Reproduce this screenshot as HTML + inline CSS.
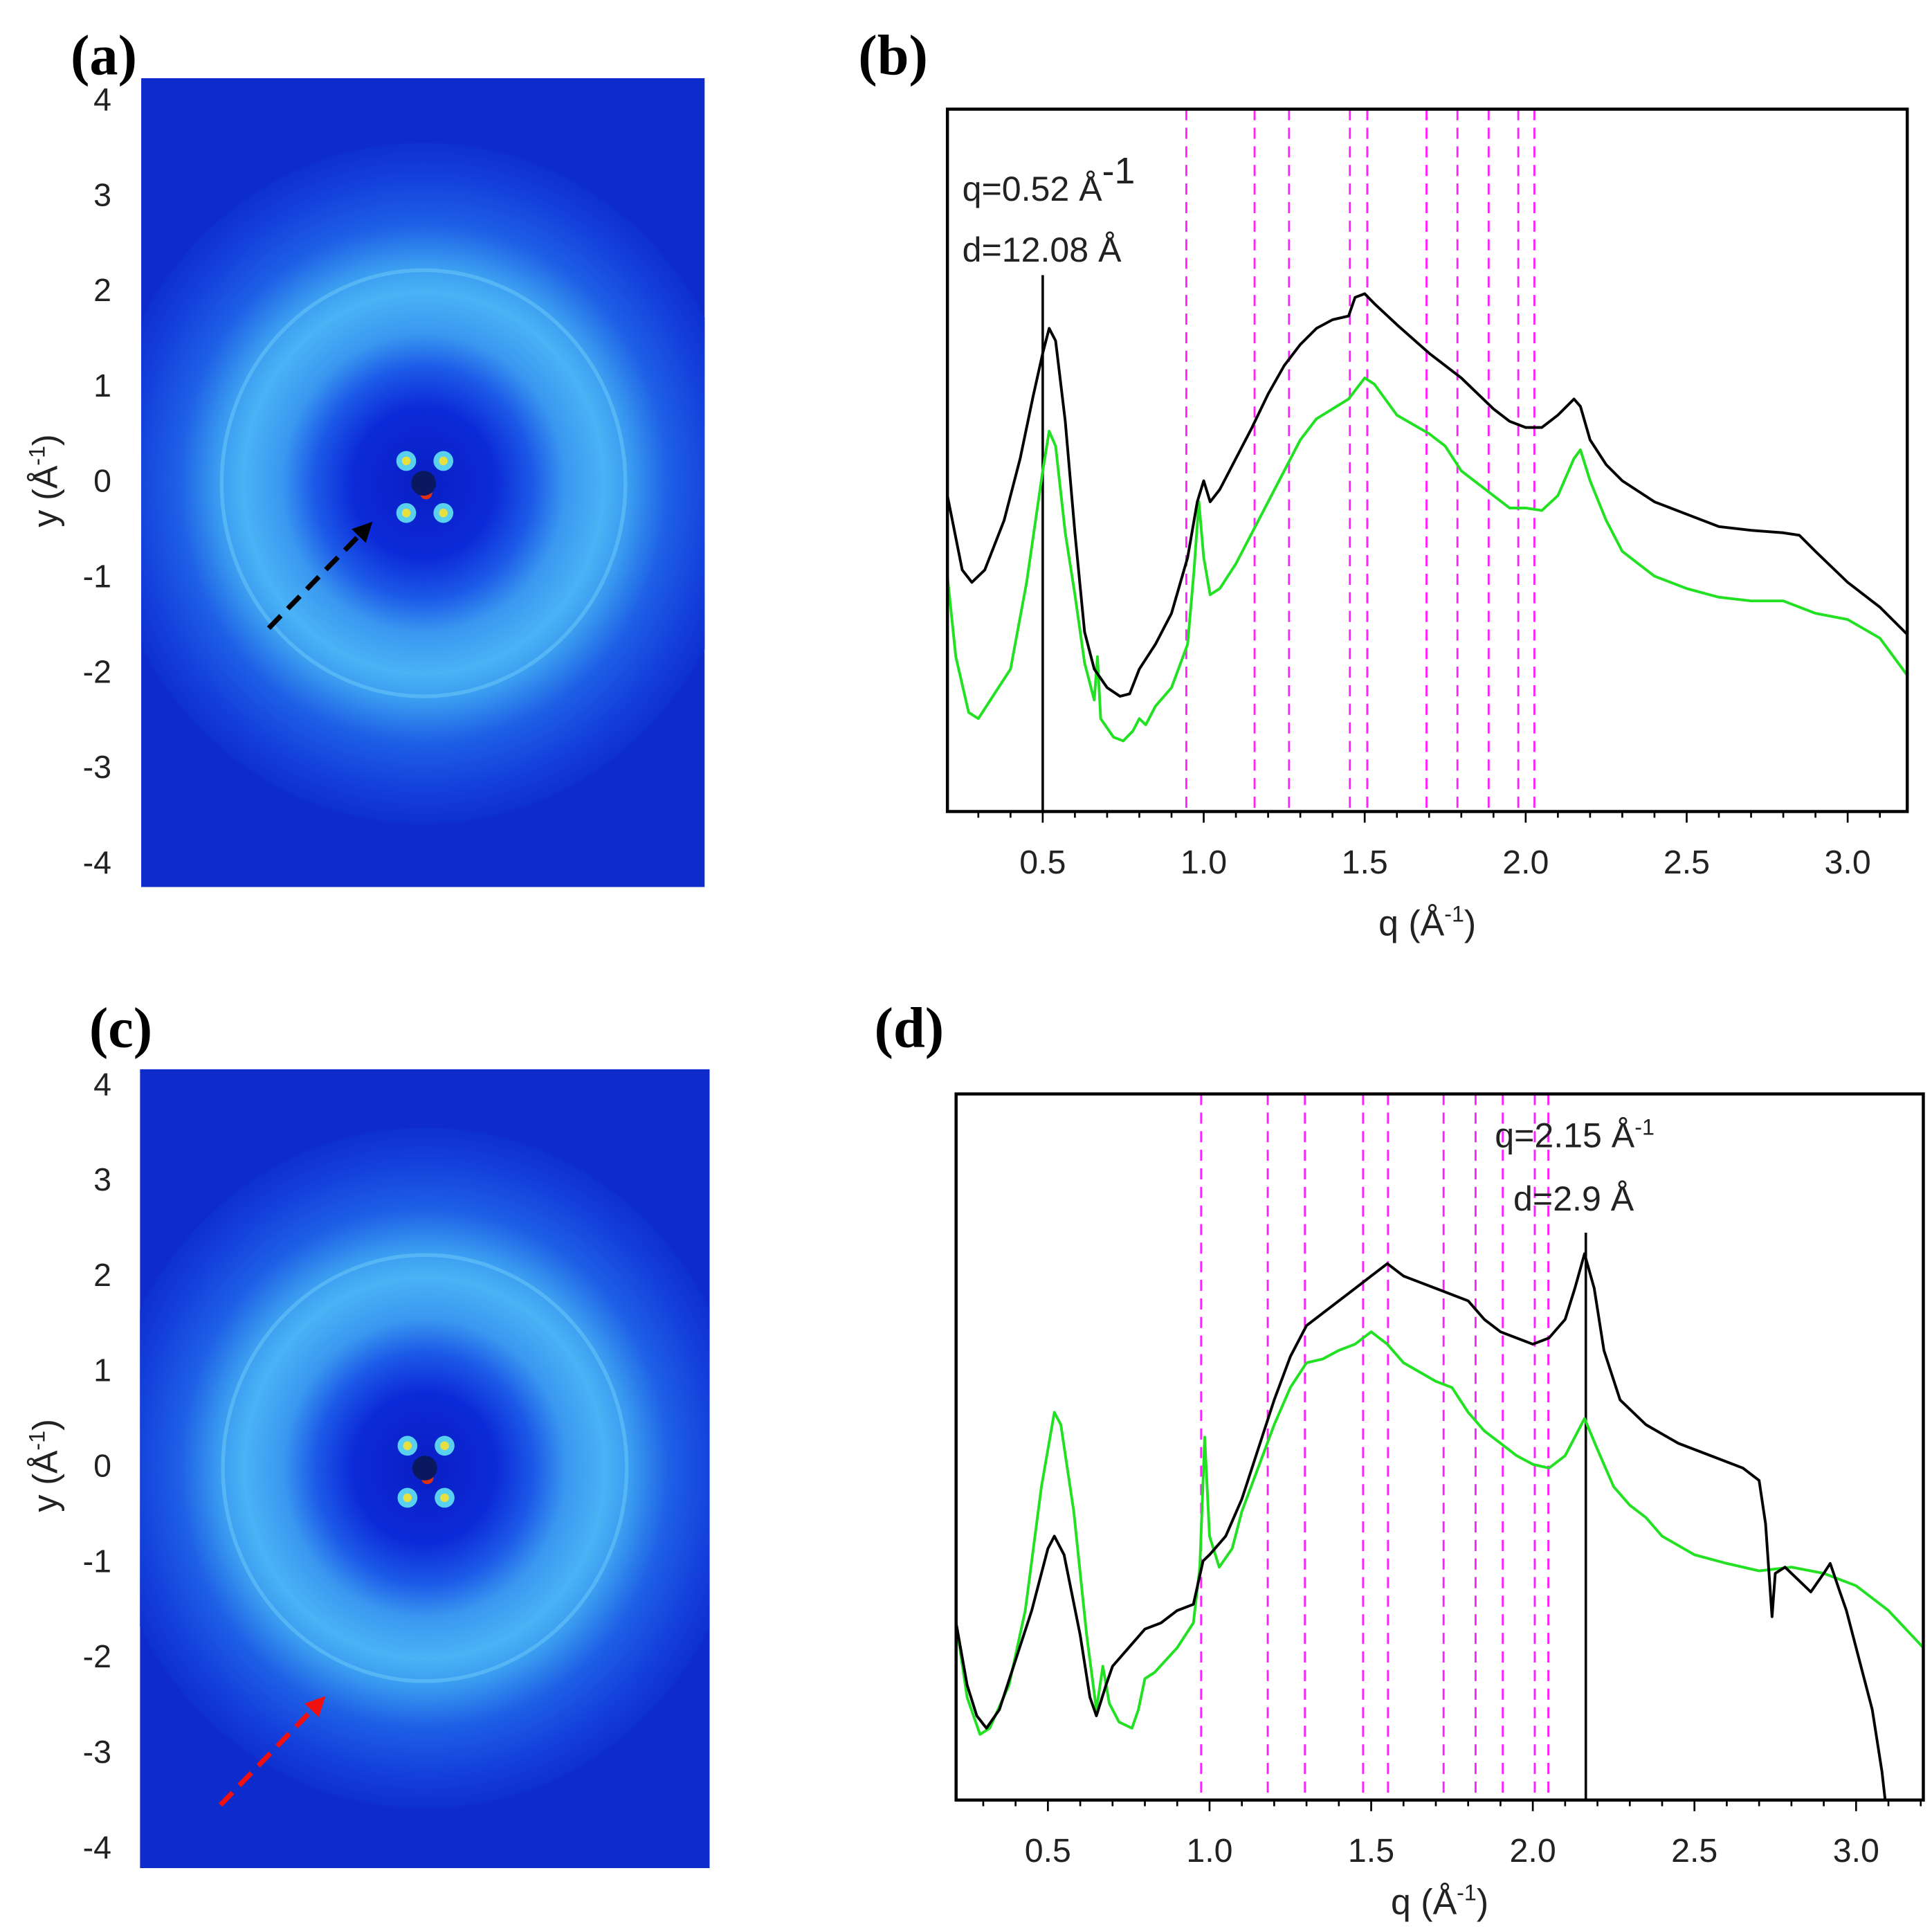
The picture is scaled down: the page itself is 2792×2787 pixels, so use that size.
<!DOCTYPE html>
<html><head><meta charset="utf-8"><style>
html,body{margin:0;padding:0;background:#fff;}
svg{display:block;}
text{font-family:"Liberation Sans",sans-serif;}
.pl{font-family:"Liberation Serif",serif;font-weight:bold;font-size:46px;}
</style></head><body>
<svg id="fig" width="2792" height="2787" viewBox="0 0 1560 1557" xmlns="http://www.w3.org/2000/svg">
<defs>
<radialGradient id="det" cx="0.5" cy="0.5" r="0.5" gradientUnits="objectBoundingBox">
<stop offset="0" stop-color="#0a1ec4"/>
<stop offset="0.22" stop-color="#0c2ad8"/>
<stop offset="0.34" stop-color="#1c5ae8"/>
<stop offset="0.44" stop-color="#3a98f0"/>
<stop offset="0.56" stop-color="#4ab2f5"/>
<stop offset="0.64" stop-color="#3a9cf0"/>
<stop offset="0.76" stop-color="#1e60e6"/>
<stop offset="0.9" stop-color="#1440dc"/>
<stop offset="1" stop-color="#0e30d0"/>
</radialGradient>
<clipPath id="clipA"><rect x="114" y="63" width="455" height="653"/></clipPath>
<clipPath id="clipC"><rect x="113" y="863" width="460" height="645"/></clipPath>
<marker id="ahk" viewBox="0 0 8 8" markerWidth="4" markerHeight="4" refX="6" refY="4" orient="auto" markerUnits="strokeWidth"><path d="M0,0 L8,4 L0,8 Z" fill="#000"/></marker>
<marker id="ahr" viewBox="0 0 8 8" markerWidth="4" markerHeight="4" refX="6" refY="4" orient="auto" markerUnits="strokeWidth"><path d="M0,0 L8,4 L0,8 Z" fill="#f01010"/></marker>
</defs>
<g id="root"></g>
</svg>
<script>
// ---- data (q in 1/Å, intensity in arbitrary units) ----
const qB_black=[0.204,0.25,0.28,0.32,0.38,0.43,0.47,0.5,0.52,0.54,0.57,0.6,0.63,0.66,0.7,0.74,0.77,0.8,0.85,0.9,0.95,0.98,1.0,1.02,1.05,1.1,1.15,1.2,1.25,1.3,1.35,1.4,1.45,1.47,1.5,1.53,1.6,1.7,1.8,1.9,1.95,2.0,2.05,2.1,2.15,2.17,2.2,2.25,2.3,2.4,2.5,2.6,2.7,2.8,2.85,2.9,3.0,3.1,3.185];
const iB_black=[255,195,185,195,235,285,335,370,390,380,315,225,145,115,100,93,95,115,135,160,205,250,267,250,260,285,310,337,360,377,390,397,400,415,418,410,393,370,350,325,315,310,310,320,333,327,300,280,267,250,240,230,227,225,223,210,185,165,143];
const qB_green=[0.204,0.23,0.27,0.3,0.33,0.4,0.45,0.5,0.52,0.54,0.57,0.6,0.63,0.66,0.67,0.68,0.72,0.75,0.78,0.8,0.82,0.85,0.9,0.95,0.97,0.985,1.0,1.02,1.05,1.1,1.15,1.2,1.25,1.3,1.35,1.4,1.45,1.5,1.53,1.6,1.7,1.75,1.8,1.9,1.95,2.0,2.05,2.1,2.15,2.17,2.2,2.25,2.3,2.35,2.4,2.5,2.6,2.7,2.8,2.9,3.0,3.1,3.185];
const iB_green=[190,125,80,75,87,115,185,275,307,295,225,175,120,90,125,75,60,57,65,75,70,85,100,135,195,250,205,175,180,200,225,250,275,300,317,325,333,350,345,320,305,295,275,255,245,245,243,255,285,292,267,235,210,200,190,180,173,170,170,160,155,140,110];
const qD_black=[0.216,0.25,0.28,0.31,0.35,0.4,0.45,0.5,0.52,0.55,0.6,0.63,0.65,0.68,0.7,0.75,0.8,0.85,0.9,0.95,0.98,1.0,1.05,1.1,1.15,1.2,1.25,1.3,1.35,1.4,1.45,1.5,1.55,1.6,1.7,1.8,1.85,1.9,1.95,2.0,2.05,2.1,2.13,2.16,2.19,2.22,2.27,2.35,2.45,2.55,2.65,2.7,2.72,2.74,2.75,2.78,2.82,2.86,2.9,2.92,2.95,2.97,3.0,3.05,3.08,3.09];
const iD_black=[143,93,68,58,73,113,153,203,213,198,133,83,68,93,108,123,138,143,153,158,193,198,213,243,283,323,358,383,393,403,413,423,433,423,413,403,388,378,373,368,373,388,413,441,413,363,323,303,288,278,268,258,223,148,183,188,178,168,183,191,168,153,123,73,23,0];
const qD_green=[0.216,0.25,0.29,0.32,0.38,0.43,0.48,0.52,0.54,0.58,0.62,0.65,0.67,0.69,0.72,0.76,0.78,0.8,0.83,0.9,0.95,0.97,0.985,1.0,1.03,1.07,1.1,1.15,1.2,1.25,1.3,1.35,1.4,1.45,1.5,1.55,1.6,1.7,1.75,1.8,1.85,1.9,1.95,2.0,2.05,2.1,2.16,2.2,2.25,2.3,2.35,2.4,2.5,2.6,2.7,2.8,2.9,3.0,3.1,3.208];
const iD_green=[143,83,53,58,93,153,253,313,303,233,133,73,108,78,63,58,73,98,103,123,143,188,293,213,188,203,233,268,303,333,353,356,363,368,378,368,353,338,333,313,298,288,278,271,268,278,308,283,253,238,228,213,198,191,185,188,183,173,153,123];
const refB=[0.946,1.158,1.265,1.454,1.508,1.692,1.788,1.885,1.977,2.027];
const refD=[0.974,1.18,1.295,1.475,1.552,1.724,1.823,1.907,2.006,2.048];
const peakB=[0.5];
const peakD=[2.164];
const xTicks=[0.5,1.0,1.5,2.0,2.5,3.0];
const xTickLabels=["0.5","1.0","1.5","2.0","2.5","3.0"];
const yTicks=[4,3,2,1,0,-1,-2,-3,-4];
const yTickLabels=["4","3","2","1","0","-1","-2","-3","-4"];

const NS="http://www.w3.org/2000/svg";
const root=document.getElementById('root');
function mk(tag,attrs,parent,txt){const e=document.createElementNS(NS,tag);for(const k in attrs)e.setAttribute(k,attrs[k]);if(txt!==undefined)e.textContent=txt;(parent||root).appendChild(e);return e;}

function detector(name,clip,x0,y0,x1,y1,cx,cy,yZero,yPer,arrow){
  const g=mk('g',{'clip-path':clip});
  
  
  mk('rect',{x:x0,y:y0,width:x1-x0,height:y1-y0,fill:'#0e2ccc'},g);
  mk('ellipse',{cx:cx,cy:cy,rx:260,ry:275,fill:'url(#det)'},g);
  mk('ellipse',{cx:cx,cy:cy,rx:163,ry:172,fill:'none',stroke:'#6cc8f8','stroke-width':3,opacity:0.55},g);
  [[-14,-18],[16,-18],[-14,24],[16,24]].forEach(d=>{
    mk('circle',{cx:cx+d[0],cy:cy+d[1],r:8,fill:'#5ad0f0'},g);
    mk('circle',{cx:cx+d[0],cy:cy+d[1],r:3.5,fill:'#e8e040'},g);
  });
  mk('circle',{cx:cx+2,cy:cy+8,r:5,fill:'#e03010'},g);
  mk('circle',{cx:cx,cy:cy,r:10,fill:'#0a1860'},g);
  const ax=mk('g',{});
  
  
  yTicks.forEach((t,i)=>{
    const y=yZero-t*yPer;
    mk('text',{x:90,y:y+9,'text-anchor':'end','font-size':26,fill:'#222'},ax,yTickLabels[i]);
  });
  const tt=mk('text',{x:0,y:0,transform:`translate(46,${yZero}) rotate(-90)`,'text-anchor':'middle','font-size':28,fill:'#222'});
  
  
  tt.innerHTML='y (Å<tspan dy="-10" font-size="18">-1</tspan><tspan dy="10">)</tspan>';
  const a=mk('line',{x1:arrow[0],y1:arrow[1],x2:arrow[2],y2:arrow[3],stroke:arrow[4],'stroke-width':4,'stroke-dasharray':'14 8','marker-end':arrow[5]});
  
  
}

function chart(name,L,R,T,B,q0,q1,qb,ib,qg,ig,refs,peak,txt){
  const xs=q=>L+(q-q0)/(q1-q0)*(R-L);
  const ys=v=>B-v;
  const g=mk('g',{});
  
  
  refs.forEach(q=>{
    const l=mk('line',{x1:xs(q),x2:xs(q),y1:T,y2:B,stroke:'#ff20ff','stroke-width':1.6,'stroke-dasharray':'9 6'},g);
    
    
  });
  peak.forEach(q=>{
    const l=mk('line',{x1:xs(q),x2:xs(q),y1:txt.lineTop,y2:B,stroke:'#000','stroke-width':2},g);
    
    
  });
  const line=(qs,is,col,nm)=>{
    const p=mk('polyline',{points:qs.map((q,i)=>xs(q)+','+ys(is[i])).join(' '),fill:'none',stroke:col,'stroke-width':2.2,'stroke-linejoin':'round'},g);
    
    
  };
  line(qg,ig,'#22e022','series-green');
  line(qb,ib,'#000','series-black');
  const fr=mk('rect',{x:L,y:T,width:R-L,height:B-T,fill:'none',stroke:'#000','stroke-width':2.5},g);
  
  
  const xa=mk('g',{},g);
  
  
  for(let k=Math.ceil(q0*10);k<=Math.floor(q1*10);k++){
    const q=k/10, maj=(k%5===0);
    mk('line',{x1:xs(q),x2:xs(q),y1:B,y2:B+(maj?9:5),stroke:'#000','stroke-width':1.5},xa);
  }
  xTicks.forEach((t,i)=>mk('text',{x:xs(t),y:B+50,'text-anchor':'middle','font-size':27,fill:'#222'},xa,xTickLabels[i]));
  const xt=mk('text',{x:(L+R)/2,y:B+txt.xtOff,'text-anchor':'middle','font-size':29,fill:'#222'},xa);
  
  
  xt.innerHTML='q (Å<tspan dy="-11" font-size="18">-1</tspan><tspan dy="11">)</tspan>';
  const a1=mk('text',{x:txt.x1,y:txt.y1,'font-size':28,fill:'#222'},g);
  
  
  a1.innerHTML=txt.q+'<tspan dy="'+(-txt.supDy)+'" font-size="'+txt.supSize+'">-1</tspan>';
  const a2=mk('text',{x:txt.x2,y:txt.y2,'font-size':28,fill:'#222'},g,txt.d);
  
  
}

detector('detector-image-a','url(#clipA)',114,63,569,716,342,390,388,77,[217,507,298,424,'#000','url(#ahk)']);
detector('detector-image-c','url(#clipC)',113,863,573,1508,343,1185,1183,77,[178,1457,260,1372,'#f01010','url(#ahr)']);

chart('scattering-profile-b',765,1540,88,655,0.204,3.185,qB_black,iB_black,qB_green,iB_green,refB,peakB,
  {lineTop:222,x1:777,y1:162,q:'q=0.52 Å',supDy:14,supSize:30,x2:777,y2:211,d:'d=12.08 Å',xtOff:100});
chart('scattering-profile-d',772,1553,883,1453,0.216,3.208,qD_black,iD_black,qD_green,iD_green,refD,peakD,
  {lineTop:995,x1:1207,y1:926,q:'q=2.15 Å',supDy:10,supSize:18,x2:1222,y2:977,d:'d=2.9 Å',xtOff:92});

[['(a)',57,60],['(b)',693,60],['(c)',72,845],['(d)',706,845]].forEach(p=>{
  const t=mk('text',{x:p[1],y:p[2],class:'pl',fill:'#000'},root,p[0]);
  
  
});
</script>
</body></html>
